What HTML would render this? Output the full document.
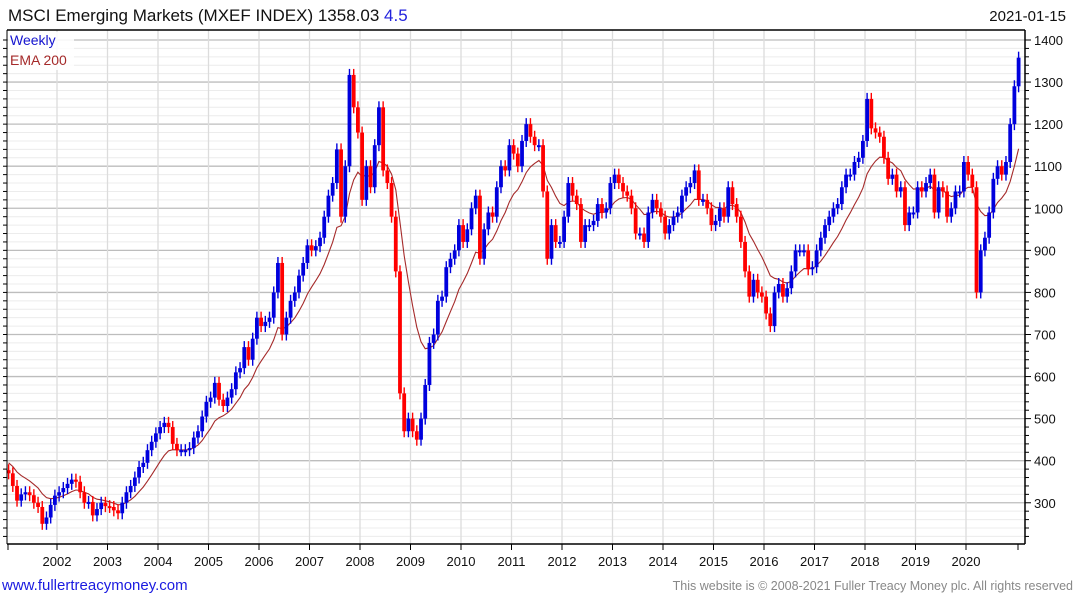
<!DOCTYPE html>
<html><head><meta charset="utf-8"><style>
body{margin:0;background:#fff;width:1075px;height:600px;overflow:hidden;font-family:"Liberation Sans",sans-serif}
svg{display:block}
</style></head><body>
<svg id="chart" width="1075" height="600">
<text x="8" y="21" font-size="17" fill="#111">MSCI Emerging Markets (MXEF INDEX) 1358.03 <tspan fill="#2222dd">4.5</tspan></text>
<text x="1066" y="21" font-size="15" fill="#111" text-anchor="end">2021-01-15</text>
<g id="grid"></g>
<g id="ema"></g>
<g id="bars"></g>
<g id="axes"></g>
<rect x="8" y="32" width="66" height="38" fill="#fff" opacity="0.85"/>
<text x="10" y="45" font-size="14" fill="#1515d0">Weekly</text>
<text x="10" y="65" font-size="14" fill="#a52a2a">EMA 200</text>
<text x="2" y="590" font-size="15" fill="#1a1ae0">www.fullertreacymoney.com</text>
<text x="1073" y="590" font-size="12.5" fill="#888" text-anchor="end">This website is © 2008-2021 Fuller Treacy Money plc. All rights reserved</text>
</svg>
<script>
const years=[2002,2003,2004,2005,2006,2007,2008,2009,2010,2011,2012,2013,2014,2015,2016,2017,2018,2019,2020];
const yTicks=[300,400,500,600,700,800,900,1000,1100,1200,1300,1400];
const closes=[
370,340,305,320,325,318,300,290,250,265,295,317,
325,335,345,355,350,325,300,302,270,285,300,292,
290,282,275,300,325,340,360,385,395,425,445,465,
480,490,480,440,425,425,425,430,455,470,505,540,
550,585,545,530,550,570,610,620,670,640,690,740,
720,730,740,800,870,700,740,780,800,840,870,912,
900,910,930,980,1030,1060,1140,980,1100,1317,1240,1180,
1020,1100,1050,1150,1240,1090,1060,980,850,560,470,500,
470,450,500,580,680,700,780,790,860,880,900,960,
920,950,1000,1030,880,950,990,980,1050,1100,1090,1150,
1130,1100,1160,1200,1170,1150,1150,1040,880,960,920,920,
980,1060,1030,1010,920,960,960,970,1010,990,1000,1060,
1080,1060,1040,1030,1000,940,940,920,990,1020,1000,980,
940,960,980,990,1030,1050,1060,1090,1020,1020,1000,960,
970,1000,980,1050,1010,980,920,850,790,830,800,790,
750,720,800,820,790,810,850,900,900,900,855,860,
900,930,960,980,1000,1010,1050,1080,1080,1110,1120,1160,
1260,1190,1180,1170,1120,1070,1080,1040,1050,960,990,990,
1050,1040,1060,1080,990,1050,1040,980,1000,1040,1040,1110,
1080,1050,800,900,930,990,1070,1100,1080,1110,1200,1290,
1358];
const NS='http://www.w3.org/2000/svg';
const L=7,R=1025,T=30,B=544;
function xPos(i){return 6.5+(i+0.5)/12*50.5;}
function yearX(yr){return 6.5+(yr-2001)*50.5;}
function yPos(v){return 40+(1400-v)*0.4207;}
function mk(tag,attrs,parent){const e=document.createElementNS(NS,tag);for(const k in attrs)e.setAttribute(k,attrs[k]);parent.appendChild(e);return e;}
const grid=document.getElementById('grid'),axes=document.getElementById('axes'),bars=document.getElementById('bars'),emaG=document.getElementById('ema');
for(let v=220;v<=1400;v+=20){const y=yPos(v);if(y<T||y>B)continue;
 const ln=mk('line',{x1:L,x2:R,y1:y,y2:y,stroke:v%100===0?'#bdbdbd':'#ececec','stroke-width':v%100===0?1.3:1},grid);
 
 
 mk('line',{x1:R,x2:R+(v%100===0?6:4),y1:y,y2:y,stroke:'#000'},axes);
 mk('line',{x1:L-4,x2:L,y1:y,y2:y,stroke:'#000'},axes);
}
years.forEach(yr=>{const x=yearX(yr);
 const ln=mk('line',{x1:x,x2:x,y1:T,y2:B,stroke:'#dcdcdc','stroke-width':1.3},grid);
 
 
 mk('line',{x1:x,x2:x,y1:B,y2:B+6,stroke:'#000'},axes);
 const t=mk('text',{x:x,y:B+22,'font-size':13,'text-anchor':'middle',fill:'#111'},axes);t.textContent=yr;
 
 
});
[2001,2021].forEach(yr=>mk('line',{x1:yearX(yr)+1.5,x2:yearX(yr)+1.5,y1:B,y2:B+6,stroke:'#000'},axes));
yTicks.forEach(v=>{const t=mk('text',{x:R+9,y:yPos(v)+5,'font-size':13,fill:'#111'},axes);t.textContent=v;
 
 });
mk('line',{x1:L,x2:R,y1:T,y2:T,stroke:'#000','stroke-width':1.5},axes);
mk('line',{x1:L,x2:R,y1:B,y2:B,stroke:'#000','stroke-width':1.5},axes);
mk('line',{x1:R,x2:R,y1:T,y2:B,stroke:'#000','stroke-width':1.5},axes);
mk('line',{x1:L,x2:L,y1:T,y2:B,stroke:'#000','stroke-width':1},axes);
let prev=closes[0]*1.02;
closes.forEach((c,i)=>{const x=xPos(i),o=prev;const col=c>=o?'#0000dd':'#ff0000';
 const y1=yPos(Math.max(o,c)),y2=yPos(Math.min(o,c));
 const w=mk('line',{x1:x,x2:x,y1:y1-6,y2:y2+6,stroke:col,'stroke-width':1.4},bars);
 
 
 const b=mk('rect',{x:x-1.9,y:y1,width:3.8,height:Math.max(2,y2-y1),fill:col},bars);
 
 
 prev=c;});
let e=395,pts=[];const a=0.16;
closes.forEach((c,i)=>{e=i===0?e:e+a*(c-e);pts.push(xPos(i).toFixed(1)+','+yPos(e).toFixed(1));});
const pl=mk('polyline',{points:pts.join(' '),fill:'none',stroke:'#a52a2a','stroke-width':1.1},emaG);


</script>
</body></html>
